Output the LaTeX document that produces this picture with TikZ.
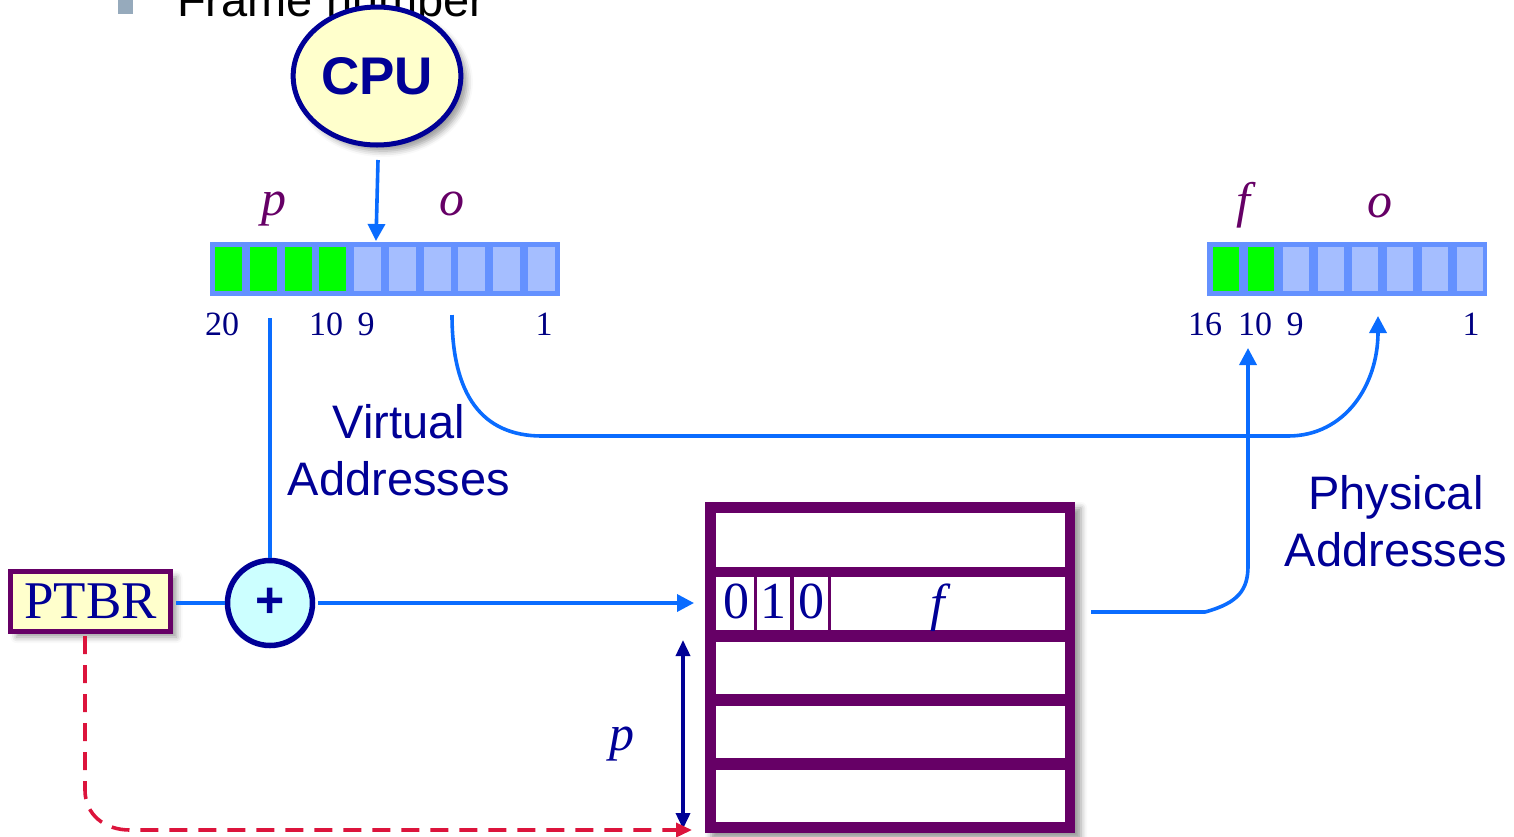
\documentclass[tikz,border=0pt]{standalone}
\usepackage{fontspec}
\setmainfont{Liberation Serif}
\setsansfont{Liberation Sans}
\usetikzlibrary{arrows.meta,shapes.geometric,shadows.blur}

\definecolor{ink}{RGB}{0,0,150}
\definecolor{numink}{RGB}{0,0,130}
\definecolor{plum}{RGB}{102,0,102}
\definecolor{lineblue}{RGB}{10,108,255}
\definecolor{regblue}{RGB}{100,145,255}
\definecolor{cellblue}{RGB}{165,190,255}
\definecolor{bitgreen}{RGB}{0,255,0}
\definecolor{paleyellow}{RGB}{255,255,204}
\definecolor{palecyan}{RGB}{204,255,255}
\definecolor{dashred}{RGB}{220,20,60}
\definecolor{bulletgray}{RGB}{150,170,188}

\begin{document}
\begin{tikzpicture}[x=1pt,y=-1pt,
  conn/.style={draw=lineblue, line width=3.6pt},
  tipend/.style={-{Triangle[length=17pt,width=17pt]}},
  softshadow/.style={blur shadow={shadow xshift=6pt, shadow yshift=-6pt, shadow blur radius=6pt, shadow opacity=40}},
  cell/.style={rectangle, inner sep=0pt, minimum height=44pt},
  bitnum/.style={anchor=base, inner sep=0pt, text=numink, font=\fontsize{34}{40}\selectfont},
  fieldlab/.style={anchor=base, inner sep=0pt, text=plum, font=\fontsize{50}{56}\selectfont\itshape},
  sanslab/.style={anchor=base, inner sep=0pt, align=center, text=ink, font=\fontsize{47}{57}\sffamily\selectfont},
  entry/.style={rectangle, fill=white, inner sep=0pt},
  entrytxt/.style={anchor=base, inner sep=0pt, text=ink, font=\fontsize{52}{58}\selectfont},
]
\clip (0,0) rectangle (1514,836);
\useasboundingbox (0,0) rectangle (1514,836);

% heading line above the figure
\fill[bulletgray] (118,-2) rectangle (133,14);
\node[anchor=base west, inner sep=0pt, font=\fontsize{47}{57}\sffamily\selectfont] (heading) at (177,16) {Frame number};

% CPU
\node[ellipse, draw=ink, line width=5pt, fill=paleyellow, minimum width=164pt, minimum height=138pt,
      softshadow, text=ink, font=\fontsize{53}{60}\sffamily\bfseries\selectfont] (cpu) at (377,76) {CPU};

% virtual address register
\node[rectangle, fill=regblue, minimum width=350pt, minimum height=54pt, inner sep=0pt] (vreg) at (385,269) {};
\foreach \i in {1,...,10}{
  \pgfmathsetmacro\cx{228.5+(\i-1)*34.78}
  \ifnum\i<5 \def\cc{bitgreen}\else\def\cc{cellblue}\fi
  \node[cell, fill=\cc, minimum width=27pt] (v\i) at (\cx,269) {};
}
\node[fieldlab] (vp) at (274,215) {p};
\node[fieldlab] (vo) at (452,215) {o};
\node[bitnum] (n20) at (222,335) {20};
\node[bitnum] (n10) at (326,335) {10};
\node[bitnum] (n9) at (366,335) {9};
\node[bitnum] (n1) at (544,335) {1};

% physical address register
\node[rectangle, fill=regblue, minimum width=280pt, minimum height=54pt, inner sep=0pt] (preg) at (1347,269) {};
\foreach \i in {1,...,8}{
  \pgfmathsetmacro\cx{1226+(\i-1)*34.86}
  \ifnum\i<3 \def\cc{bitgreen}\else\def\cc{cellblue}\fi
  \node[cell, fill=\cc, minimum width=26pt] (q\i) at (\cx,269) {};
}
\node[fieldlab] (pf) at (1243,217) {f};
\node[fieldlab] (po) at (1380,217) {o};
\node[bitnum] (m16) at (1205,335) {16};
\node[bitnum] (m10) at (1255,335) {10};
\node[bitnum] (m9) at (1295,335) {9};
\node[bitnum] (m1) at (1471,335) {1};

% captions (anchored on the baseline of their last line)
\node[sanslab] (vcap) at (399,495) {Virtual\\Addresses};
\node[sanslab] (pcap) at (1396,566) {Physical\\Addresses};

% PTBR and adder
\node[rectangle, draw=plum, line width=5pt, fill=paleyellow, minimum width=160pt, minimum height=60pt,
      inner sep=0pt, softshadow, text=ink, font=\fontsize{53}{60}\selectfont] (ptbr) at (90.5,601) {PTBR};
\node[circle, draw=ink, line width=5.5pt, fill=palecyan, minimum size=85pt, inner sep=0pt,
      text=ink, font=\fontsize{50}{56}\sffamily\bfseries\selectfont] (plus) at (270,603) {+};

% page table
\node[rectangle, fill=plum, minimum width=370pt, minimum height=331pt, inner sep=0pt, softshadow] (tbl) at (890,667.5) {};
\node[entry, minimum width=349pt, minimum height=54pt] (r1) at (890.5,540) {};
\node[entry, minimum width=38pt, minimum height=53pt] (r2a) at (735,603.5) {};
\node[entry, minimum width=33pt, minimum height=53pt] (r2b) at (773.5,603.5) {};
\node[entry, minimum width=34pt, minimum height=53pt] (r2c) at (811,603.5) {};
\node[entry, minimum width=234pt, minimum height=53pt] (r2d) at (948,603.5) {};
\node[entry, minimum width=349pt, minimum height=52pt] (r3) at (890.5,668) {};
\node[entry, minimum width=349pt, minimum height=52pt] (r4) at (890.5,732) {};
\node[entry, minimum width=349pt, minimum height=52pt] (r5) at (890.5,796) {};
\node[entrytxt] (d1) at (736,618) {0};
\node[entrytxt] (d2) at (773.5,618) {1};
\node[entrytxt] (d3) at (811,618) {0};
\node[entrytxt, font=\fontsize{52}{58}\selectfont\itshape] (tf) at (938,620) {f};

% connector end points
\coordinate (cpuout) at (378,160);
\coordinate (vin) at (376,241);
\coordinate (vtap) at (270,318);
\coordinate (otap) at (452,315);
\coordinate (oin) at (1378,316);
\coordinate (tin) at (694,603);
\coordinate (fout) at (1091,612);
\coordinate (fin) at (1248,348);
\coordinate (ptop) at (683,640);
\coordinate (pbot) at (683,829);
\coordinate (ptbrout) at (85,636);
\coordinate (tbase) at (692,830);

% connectors
\draw[conn, tipend] (cpuout) -- (vin);
\draw[conn] (vtap) -- (plus.north);
\draw[conn] (ptbr.east |- plus.west) ++(3,0) -- (plus.west);
\draw[conn, tipend] (plus.east) ++(3,0) -- (tin);
\draw[conn, tipend] (otap) .. controls (452,395) and (482,436) .. (542,436)
  -- (1288,436) .. controls (1345,436) and (1378,385) .. (oin);
\draw[conn, tipend] (fout) -- (1205,612) .. controls (1238,603) and (1248,590) .. (1248,566) -- (fin);
\draw[draw=ink, line width=3.6pt, {Triangle[length=16pt,width=14pt]}-{Triangle[length=16pt,width=14pt]}] (ptop) -- (pbot);
\node[anchor=base, inner sep=0pt, text=ink, font=\fontsize{50}{56}\selectfont\itshape] (plen) at (622,750) {p};
\draw[draw=dashred, line width=3.6pt, dash pattern=on 18pt off 11pt, -{Triangle[length=16pt,width=14pt]}]
  (ptbrout) -- (85,790) .. controls (85,815) and (105,830) .. (130,830) -- (tbase);
\end{tikzpicture}
\end{document}
